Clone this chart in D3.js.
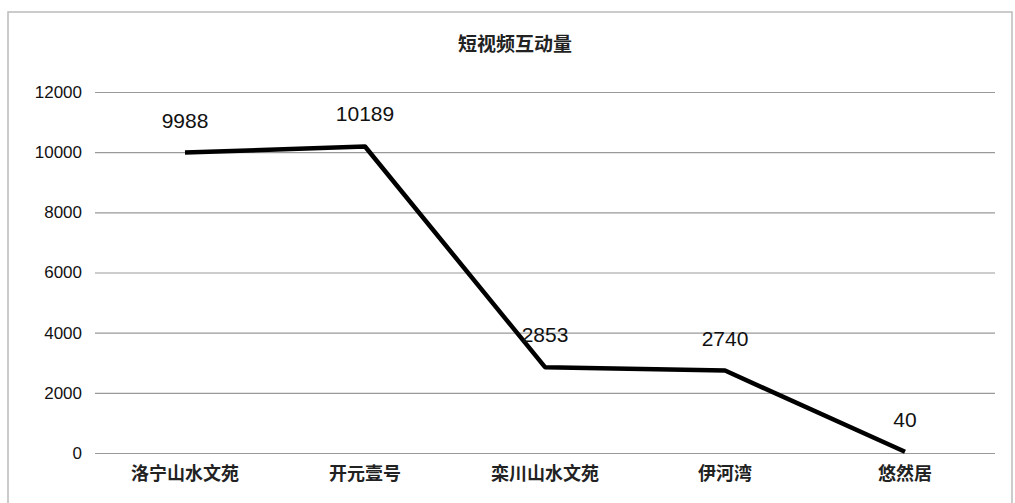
<!DOCTYPE html>
<html><head><meta charset="utf-8">
<script src="https://cdn.jsdelivr.net/npm/d3@7"></script>
<style>body{margin:0;background:#fff;}svg{display:block;}</style>
</head><body>
<svg id="c" width="1015" height="503"></svg>
<script>
const title = "短视频互动量";
const categories = ["洛宁山水文苑", "开元壹号", "栾川山水文苑", "伊河湾", "悠然居"];
const values = [9988, 10189, 2853, 2740, 40];
const yTicks = [0, 2000, 4000, 6000, 8000, 10000, 12000];

const svg = d3.select("#c");
const W = 1015, H = 503;
const m = {left: 95, right: 20, top: 92, bottom: 50};
const x = d3.scaleBand().domain(categories).range([m.left, W - m.right]);
const y = d3.scaleLinear().domain([0, 12000]).range([H - m.bottom, m.top]);

svg.append("rect").attr("x", 8).attr("y", 12).attr("width", 1004).attr("height", 495)
  .attr("fill", "#fff").attr("stroke", "#bbb").attr("stroke-width", 1.5);

svg.append("text").attr("x", 515).attr("y", 51).attr("text-anchor", "middle")
  .attr("font-family", "Noto Sans CJK SC").attr("font-size", 19).attr("font-weight", "bold")
  .attr("fill", "#222").text(title);

const ya = svg.append("g").attr("transform", `translate(${m.left},0)`)
  .call(d3.axisLeft(y).tickValues(yTicks).tickSize(-(W - m.left - m.right)).tickPadding(13).tickFormat(d3.format("d")));
ya.select(".domain").remove();
ya.selectAll(".tick line").attr("stroke", "#999").attr("stroke-width", 1.2);
ya.selectAll(".tick text").attr("font-family", "Liberation Sans, Arial").attr("font-size", 17).attr("fill", "#111");

const xa = svg.append("g").attr("transform", `translate(0,${H - m.bottom})`)
  .call(d3.axisBottom(x).tickSize(0).tickPadding(14));
xa.select(".domain").remove();
xa.selectAll(".tick text").attr("font-family", "Noto Sans CJK SC").attr("font-size", 18).attr("font-weight", "bold").attr("fill", "#222");

const cx = d => x(d) + x.bandwidth() / 2;
const line = d3.line().x((d, i) => cx(categories[i])).y(d => y(d));
svg.append("path").datum(values).attr("d", line).attr("fill", "none")
  .attr("stroke", "#000").attr("stroke-width", 4.5).attr("stroke-linejoin", "round");

svg.selectAll(".lbl").data(values).enter().append("text").attr("class", "lbl")
  .attr("x", (d, i) => cx(categories[i])).attr("y", d => y(d) - 25)
  .attr("text-anchor", "middle").attr("font-family", "Liberation Sans, Arial").attr("font-size", 21)
  .attr("fill", "#111").text(d => d);
</script>
</body></html>
